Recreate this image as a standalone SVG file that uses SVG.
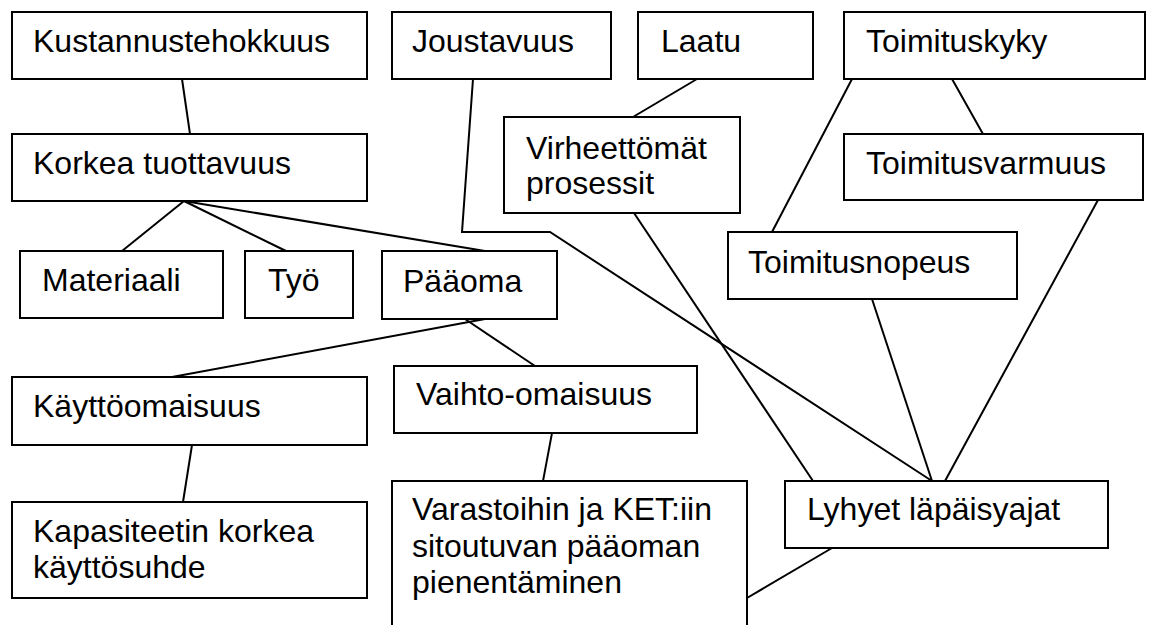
<svg xmlns="http://www.w3.org/2000/svg" width="1164" height="625" viewBox="0 0 1164 625">
<style>
rect{fill:#fff;stroke:#000;stroke-width:2}
text{font-family:"Liberation Sans",Arial,sans-serif;font-size:32px;fill:#000}
.c line,.c polyline{stroke:#000;stroke-width:2;fill:none}
</style>
<rect x="0" y="0" width="1164" height="625" style="stroke:none"/>
<g class="c" id="connectors">
<line x1="182" y1="79" x2="190" y2="134"/>
<line x1="184" y1="201" x2="122" y2="251"/>
<line x1="184" y1="201" x2="286" y2="251"/>
<line x1="184" y1="201" x2="485" y2="251"/>
<line x1="485" y1="319" x2="172" y2="377"/>
<line x1="465" y1="319" x2="535" y2="366"/>
<line x1="192" y1="445" x2="183" y2="502"/>
<line x1="552" y1="433" x2="543" y2="481"/>
<line x1="697" y1="79" x2="633" y2="117"/>
<polyline points="473,79 462,232 550,232 932,481"/>
<line x1="634" y1="213" x2="813" y2="481"/>
<line x1="952" y1="79" x2="983" y2="134"/>
<line x1="852" y1="79" x2="772" y2="232"/>
<line x1="1098" y1="200" x2="945" y2="481"/>
<line x1="872" y1="299" x2="932" y2="481"/>
<line x1="832" y1="548" x2="747" y2="598"/>
</g>
<g id="kustannustehokkuus"><rect x="12" y="12" width="355" height="67"/><text x="33" y="52">Kustannustehokkuus</text></g>
<g id="joustavuus"><rect x="392" y="12" width="219" height="67"/><text x="412" y="52">Joustavuus</text></g>
<g id="laatu"><rect x="638" y="12" width="175" height="67"/><text x="661" y="52">Laatu</text></g>
<g id="toimituskyky"><rect x="844" y="12" width="301" height="67"/><text x="866" y="52">Toimituskyky</text></g>
<g id="korkea"><rect x="12" y="134" width="355" height="67"/><text x="33" y="174">Korkea tuottavuus</text></g>
<g id="virheettomat"><rect x="504" y="117" width="236" height="96"/><text x="526" y="159">Virheettömät</text><text x="526" y="194">prosessit</text></g>
<g id="toimitusvarmuus"><rect x="844" y="134" width="299" height="66"/><text x="866" y="174">Toimitusvarmuus</text></g>
<g id="materiaali"><rect x="20" y="251" width="203" height="67"/><text x="42" y="291">Materiaali</text></g>
<g id="tyo"><rect x="245" y="251" width="108" height="67"/><text x="268" y="291">Työ</text></g>
<g id="paaoma"><rect x="382" y="251" width="175" height="68"/><text x="403" y="292">Pääoma</text></g>
<g id="toimitusnopeus"><rect x="728" y="232" width="289" height="67"/><text x="748" y="273">Toimitusnopeus</text></g>
<g id="kayttoomaisuus"><rect x="12" y="377" width="355" height="68"/><text x="33" y="417">Käyttöomaisuus</text></g>
<g id="vaihto"><rect x="394" y="366" width="303" height="67"/><text x="416" y="405">Vaihto-omaisuus</text></g>
<g id="kapasiteetin"><rect x="12" y="502" width="355" height="96"/><text x="33" y="542">Kapasiteetin korkea</text><text x="33" y="578">käyttösuhde</text></g>
<g id="varastoihin"><rect x="392" y="481" width="355" height="160"/><text x="412" y="520">Varastoihin ja KET:iin</text><text x="412" y="557">sitoutuvan pääoman</text><text x="412" y="593">pienentäminen</text></g>
<g id="lyhyet"><rect x="785" y="481" width="323" height="67"/><text x="807" y="520">Lyhyet läpäisyajat</text></g>
</svg>
